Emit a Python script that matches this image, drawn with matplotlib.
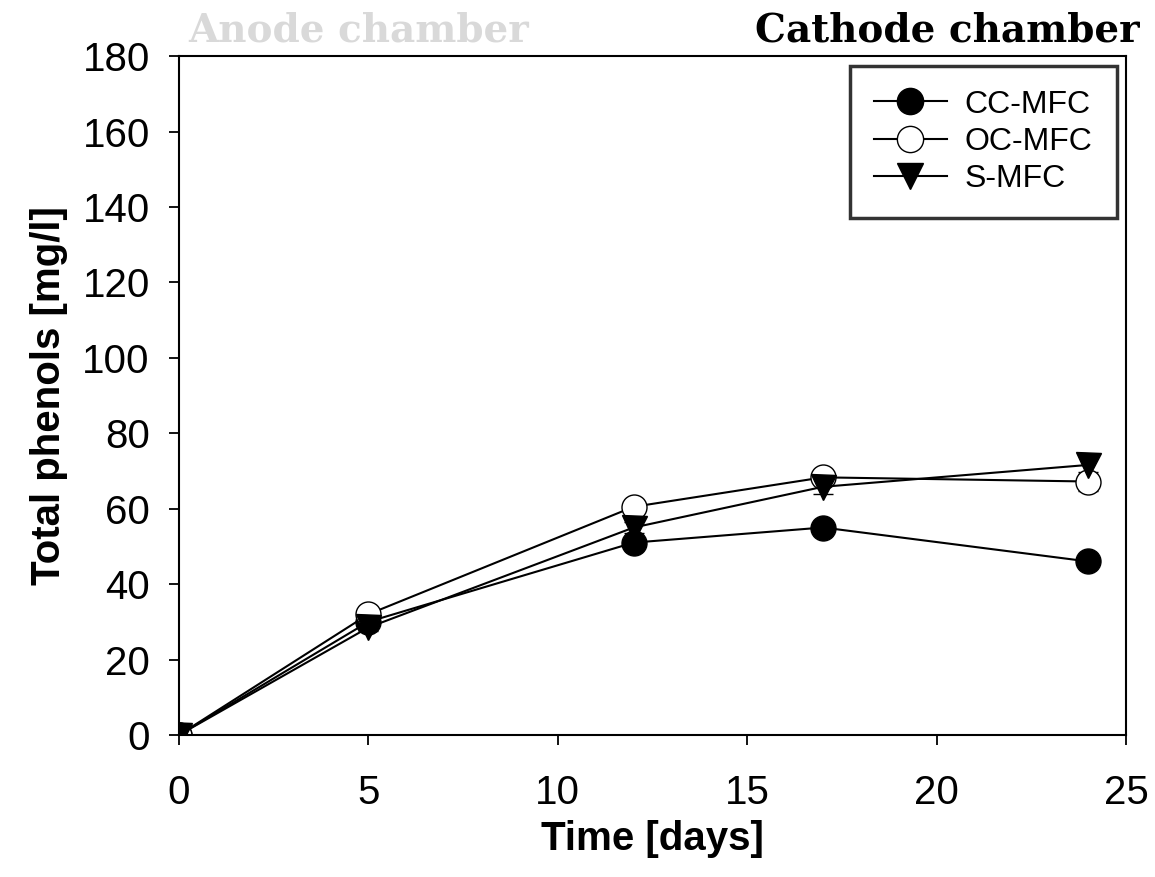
import numpy as np
import matplotlib.pyplot as plt

days = [0, 5, 12, 17, 24]
cc_mfc = [0, 30, 51, 55, 46]
cc_err = [0.5, 1.0, 1.5, 1.0, 1.0]
oc_mfc = [0, 32, 60.5, 68.3, 67.2]
oc_err = [0.5, 1.0, 1.0, 1.5, 2.5]
s_mfc = [0, 28.5, 55, 65.8, 71.6]
s_err = [0.5, 1.0, 1.5, 2.0, 2.5]

plt.rcParams['font.family'] = ['Liberation Sans', 'DejaVu Sans']

fig = plt.figure(figsize=(11.55, 8.77), dpi=100)
ax = fig.add_axes([0.155, 0.162, 0.82, 0.774])

kw = dict(color='black', lw=1.5, markersize=18, capsize=7, elinewidth=1, ecolor='black', markeredgewidth=1)
ax.errorbar(days, cc_mfc, yerr=cc_err, marker='o', mfc='black', label='CC-MFC', **kw)
ax.errorbar(days, oc_mfc, yerr=oc_err, marker='o', mfc='white', label='OC-MFC', **kw)
ax.errorbar(days, s_mfc, yerr=s_err, marker='v', mfc='black', label='S-MFC', **kw)

ax.set_xlim(0, 25)
ax.set_ylim(0, 180)
ax.set_xticks(range(0, 26, 5))
ax.set_yticks(range(0, 181, 20))
ax.tick_params(labelsize=29, length=7, width=1.3, direction='out')
ax.tick_params(axis='y', pad=14)
ax.tick_params(axis='x', pad=21)
for s in ax.spines.values():
    s.set_linewidth(1.5)
ax.set_xlabel('Time [days]', fontsize=29, fontweight='bold', labelpad=6)
ax.set_ylabel('Total phenols [mg/l]', fontsize=29, fontweight='bold', labelpad=10)

handles, labels = ax.get_legend_handles_labels()
handles = [h[0] for h in handles]
leg = ax.legend(handles, labels, loc='upper right', fontsize=23, frameon=True, fancybox=False,
                edgecolor='black', borderpad=0.75, handlelength=2.3, handletextpad=0.55,
                labelspacing=0.22, borderaxespad=0.3, bbox_to_anchor=(1.0, 1.0), markerscale=1.05)
leg.get_frame().set_linewidth(2.5)

fig.text(0.163, 0.944, 'Anode chamber', fontsize=28, fontweight='bold', family='DejaVu Serif',
         color='#d9d9d9', va='bottom')
fig.text(0.987, 0.944, 'Cathode chamber', fontsize=28, fontweight='bold', family='DejaVu Serif',
         color='black', va='bottom', ha='right')

fig.savefig('out.png', dpi=100)
